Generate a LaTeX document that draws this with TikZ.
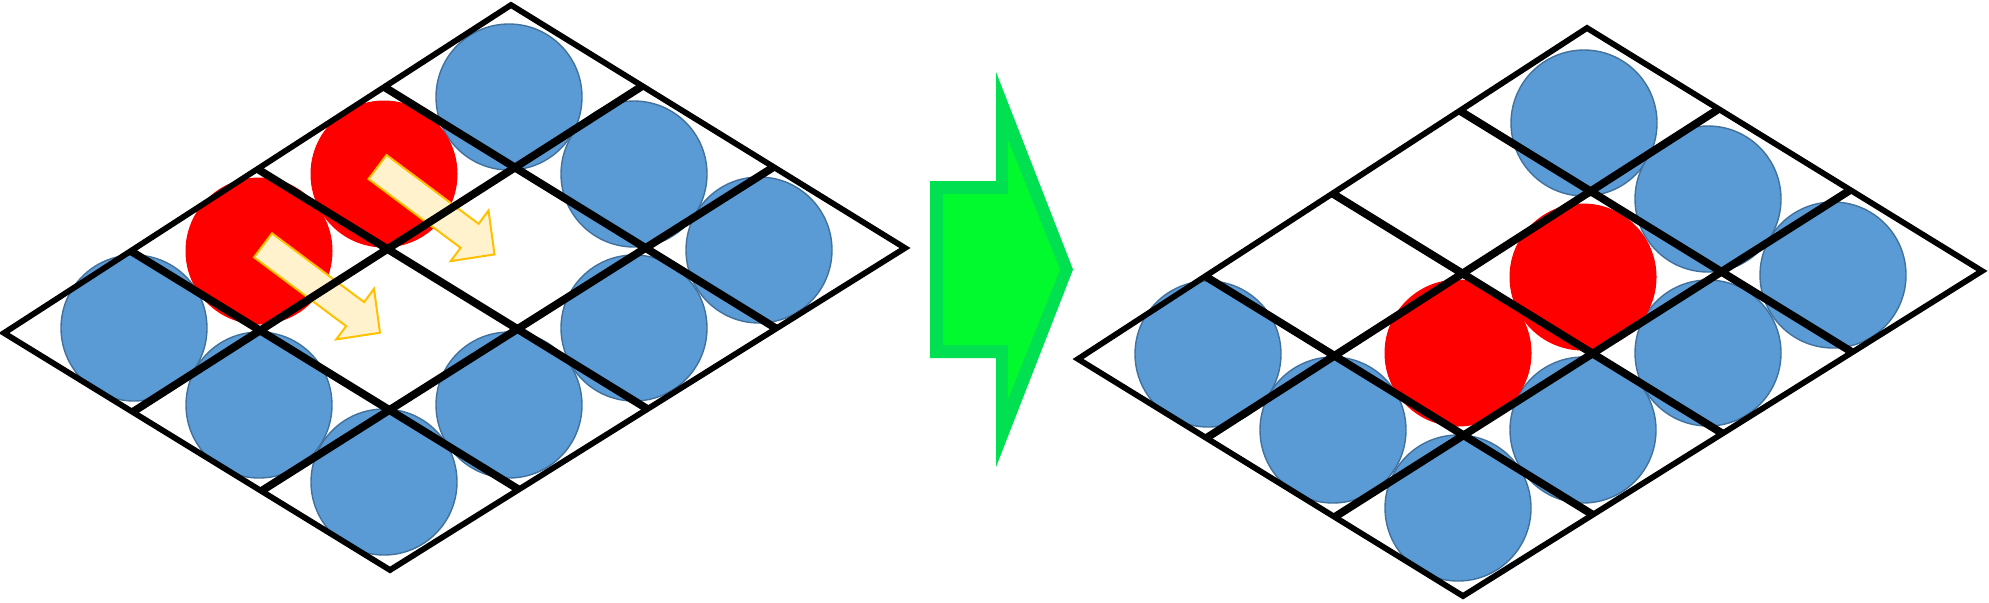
\documentclass[tikz,border=0pt]{standalone}
\usetikzlibrary{calc}
\definecolor{cblue}{RGB}{91,155,213}
\definecolor{cbluedark}{RGB}{65,113,156}
\definecolor{cred}{RGB}{255,0,0}
\definecolor{cyel}{RGB}{255,242,204}
\definecolor{corange}{RGB}{255,192,0}
\definecolor{cgreen}{RGB}{0,250,45}
\definecolor{cgreenedge}{RGB}{0,224,80}
\tikzset{
  ball/.style={circle,minimum size=73pt,inner sep=0pt,outer sep=0pt,fill=cblue,draw=cbluedark,line width=0.7pt},
  redball/.style={circle,minimum size=73pt,inner sep=0pt,outer sep=0pt,fill=cred,draw=cred,line width=0.5pt},
  gridedge/.style={line width=2.9pt,draw=black,line join=miter},
  gridline/.style={line width=3.9pt,draw=black},
  movearrow/.style={fill=cyel,draw=corange,line width=1pt,line join=miter},
  movepic/.pic={
    \draw[movearrow] (-9,12) -- (83.1,80.8) -- (73.2,94.1) -- (117,87.4)
      -- (111,43.5) -- (101.1,56.8) -- (9,-12) -- cycle;
  }
}
\begin{document}
\begin{tikzpicture}[x=0.5pt,y=-0.5pt]
\useasboundingbox (0,0) rectangle (1989,602);

% ---------- left grid: balls ----------
\node[ball] (l00) at (134,328) {};
\node[ball] (l01) at (259,405) {};
\node[ball] (l02) at (384,482) {};
\node[ball] (l12) at (509,405) {};
\node[ball] (l22) at (634,328) {};
\node[ball] (l30) at (509,97) {};
\node[ball] (l31) at (634,174) {};
\node[ball] (l32) at (759,250) {};
\node[redball] (l10) at (259,251) {};
\node[redball] (l20) at (384,174) {};

% moving arrows
\pic at (263,245.3) {movepic};
\pic at (377.5,167) {movepic};

% ---------- left grid: lines ----------
\coordinate (AL) at (4,333);
\coordinate (AT) at (511,5);
\coordinate (AR) at (905,248);
\coordinate (AB) at (390,570);
\foreach \k in {1,2}
  \draw[gridline] ($(AL)!\k/3!(AB)$) -- ($(AT)!\k/3!(AR)$);
\foreach \k in {1,2,3}
  \draw[gridline] ($(AL)!\k/4!(AT)$) -- ($(AB)!\k/4!(AR)$);
\draw[gridedge] (AL) -- (AT) -- (AR) -- (AB) -- cycle;

% ---------- green block arrow ----------
\fill[cgreenedge] (930,181) -- (996,181) -- (996,72) -- (1073,269.5)
  -- (996,467) -- (996,358) -- (930,358) -- cycle;
\fill[cgreen] (943,194) -- (1008,194) -- (1008,140) -- (1060,269.5)
  -- (1008,399) -- (1008,345) -- (943,345) -- cycle;

% ---------- right grid: balls ----------
\node[ball] (r00) at (1208,354) {};
\node[ball] (r01) at (1333,430) {};
\node[ball] (r02) at (1458,508) {};
\node[ball] (r12) at (1583,430) {};
\node[ball] (r22) at (1708,353) {};
\node[ball] (r30) at (1584,123) {};
\node[ball] (r31) at (1708,199) {};
\node[ball] (r32) at (1833,275) {};
\node[redball] (r11) at (1458,353) {};
\node[redball] (r21) at (1583,277) {};

% ---------- right grid: lines ----------
\coordinate (BL) at (1078,359);
\coordinate (BT) at (1587,28);
\coordinate (BR) at (1982,271);
\coordinate (BB) at (1463,596);
\foreach \k in {1,2}
  \draw[gridline] ($(BL)!\k/3!(BB)$) -- ($(BT)!\k/3!(BR)$);
\foreach \k in {1,2,3}
  \draw[gridline] ($(BL)!\k/4!(BT)$) -- ($(BB)!\k/4!(BR)$);
\draw[gridedge] (BL) -- (BT) -- (BR) -- (BB) -- cycle;
\end{tikzpicture}
\end{document}
